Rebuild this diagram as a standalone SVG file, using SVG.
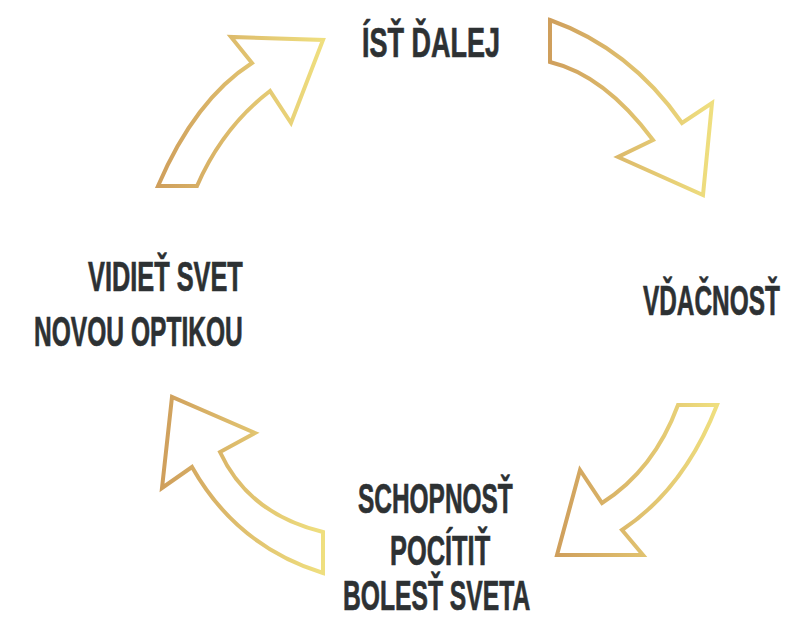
<svg xmlns="http://www.w3.org/2000/svg" width="790" height="619" viewBox="0 0 790 619">
  <defs>
    <linearGradient id="gold" x1="0" y1="0.5" x2="1" y2="0.5">
      <stop offset="0" stop-color="#cf9f5c"/>
      <stop offset="1" stop-color="#efdf7f"/>
    </linearGradient>
  </defs>
  <style>
    .arrow { fill: none; stroke: url(#gold); stroke-width: 4; stroke-linejoin: miter; }
    .lbl { font-family: "Liberation Sans", Arial, sans-serif; font-weight: bold; font-size: 42px; fill: #2d3133; stroke: #2d3133; stroke-width: 0.7; }
  </style>
  <rect width="790" height="619" fill="#ffffff"/>
  <g id="connectors">
    <path class="arrow" d="M158,186 Q195,99.5 252,63 L231,37 L323,40 L291,123 L270,91 Q222.5,127.5 197,186 Z"/>
    <path class="arrow" d="M550,20 Q630,48.5 682,123 L712,103 L703,195 L618,157 L653,140 Q604.5,75 550,62 Z"/>
    <path class="arrow" d="M717,405 Q684.5,488.5 622,530 L643,555 L557,555 L580,470 L602,503 Q654,470 678,405 Z"/>
    <path class="arrow" d="M323,573 Q236.5,546 192,467 L162,488 L172,397 L255,433 L220,452 Q248.5,514 323,532 Z"/>
  </g>
  <g id="node-ist-dalej">
    <g transform="translate(362,57) scale(0.6,1)">
      <text class="lbl" x="0" y="0" textLength="230" lengthAdjust="spacingAndGlyphs">ÍSŤ ĎALEJ</text>
    </g>
  </g>
  <g id="node-vdacnost">
    <g transform="translate(643,315) scale(0.6,1)">
      <text class="lbl" x="0" y="0" textLength="228" lengthAdjust="spacingAndGlyphs">VĎAČNOSŤ</text>
    </g>
  </g>
  <g id="node-schopnost">
    <g transform="translate(358,513) scale(0.6,1)">
      <text class="lbl" x="0" y="0" textLength="258" lengthAdjust="spacingAndGlyphs">SCHOPNOSŤ</text>
    </g>
    <g transform="translate(390,565) scale(0.6,1)">
      <text class="lbl" x="0" y="0" textLength="167" lengthAdjust="spacingAndGlyphs">POCÍTIŤ</text>
    </g>
    <g transform="translate(343,610) scale(0.6,1)">
      <text class="lbl" x="0" y="0" textLength="312" lengthAdjust="spacingAndGlyphs">BOLESŤ SVETA</text>
    </g>
  </g>
  <g id="node-vidiet">
    <g transform="translate(88,291) scale(0.6,1)">
      <text class="lbl" x="0" y="0" textLength="258" lengthAdjust="spacingAndGlyphs">VIDIEŤ SVET</text>
    </g>
    <g transform="translate(34,346) scale(0.6,1)">
      <text class="lbl" x="0" y="0" textLength="348" lengthAdjust="spacingAndGlyphs">NOVOU OPTIKOU</text>
    </g>
  </g>
</svg>
